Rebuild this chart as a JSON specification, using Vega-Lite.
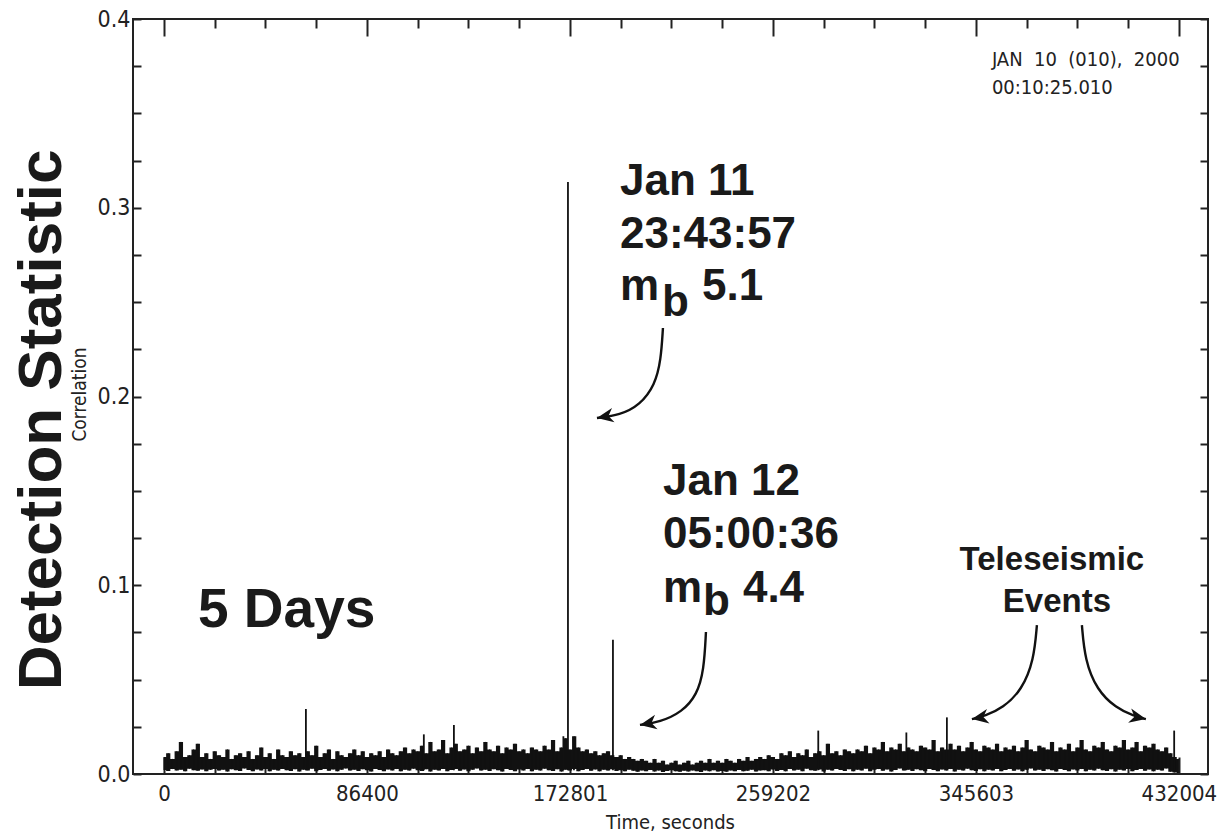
{
 "$schema": "https://vega.github.io/schema/vega-lite/v6.json",
 "width": 1075,
 "height": 755,
 "autosize": {"type": "none"},
 "padding": {"left": 133, "top": 19, "right": 15, "bottom": 62},
 "background": "white",
 "config": {
  "view": {"stroke": "#222", "strokeWidth": 2},
  "axis": {"grid": false, "domain": false, "tickColor": "#222", "tickWidth": 2, "labelColor": "#222", "labelFont": "Liberation Sans Narrow, DejaVu Sans Condensed, sans-serif", "labelFontSize": 22, "titleColor": "#222", "titleFont": "Liberation Sans Narrow, DejaVu Sans Condensed, sans-serif", "titleFontWeight": "normal", "labelOverlap": false, "labelFlush": false}
 },
 "resolve": {"axis": {"x": "independent", "y": "independent"}},
 "datasets": {
  "band": [
   {"t":0,"lo":0.0021,"hi":0.009},{"t":1800,"lo":0.0016,"hi":0.011},{"t":3600,"lo":0.0026,"hi":0.008},{"t":5400,"lo":0.0019,"hi":0.012},{"t":7200,"lo":0.0023,"hi":0.017},
   {"t":9000,"lo":0.0014,"hi":0.009},{"t":10800,"lo":0.0028,"hi":0.010},{"t":12600,"lo":0.0020,"hi":0.013},{"t":14400,"lo":0.0017,"hi":0.016},{"t":16200,"lo":0.0024,"hi":0.009},
   {"t":18000,"lo":0.0015,"hi":0.011},{"t":19800,"lo":0.0022,"hi":0.008},{"t":21600,"lo":0.0027,"hi":0.012},{"t":23400,"lo":0.0018,"hi":0.010},{"t":25200,"lo":0.0023,"hi":0.009},
   {"t":27000,"lo":0.0013,"hi":0.013},{"t":28800,"lo":0.0025,"hi":0.008},{"t":30600,"lo":0.0020,"hi":0.010},{"t":32400,"lo":0.0016,"hi":0.011},{"t":34200,"lo":0.0029,"hi":0.009},
   {"t":36000,"lo":0.0021,"hi":0.012},{"t":37800,"lo":0.0015,"hi":0.008},{"t":39600,"lo":0.0024,"hi":0.010},{"t":41400,"lo":0.0019,"hi":0.014},{"t":43200,"lo":0.0026,"hi":0.009},
   {"t":45000,"lo":0.0014,"hi":0.011},{"t":46800,"lo":0.0022,"hi":0.008},{"t":48600,"lo":0.0018,"hi":0.013},{"t":50400,"lo":0.0027,"hi":0.010},{"t":52200,"lo":0.0020,"hi":0.009},
   {"t":54000,"lo":0.0016,"hi":0.012},{"t":55800,"lo":0.0025,"hi":0.010},{"t":57600,"lo":0.0013,"hi":0.011},{"t":59400,"lo":0.0023,"hi":0.009},{"t":61200,"lo":0.0019,"hi":0.012},
   {"t":63000,"lo":0.0028,"hi":0.010},{"t":64800,"lo":0.0015,"hi":0.015},{"t":66600,"lo":0.0021,"hi":0.009},{"t":68400,"lo":0.0026,"hi":0.011},{"t":70200,"lo":0.0017,"hi":0.013},
   {"t":72000,"lo":0.0024,"hi":0.008},{"t":73800,"lo":0.0014,"hi":0.012},{"t":75600,"lo":0.0022,"hi":0.010},{"t":77400,"lo":0.0029,"hi":0.009},{"t":79200,"lo":0.0018,"hi":0.011},
   {"t":81000,"lo":0.0023,"hi":0.013},{"t":82800,"lo":0.0016,"hi":0.010},{"t":84600,"lo":0.0025,"hi":0.012},{"t":86400,"lo":0.0020,"hi":0.009},{"t":88200,"lo":0.0013,"hi":0.011},
   {"t":90000,"lo":0.0027,"hi":0.010},{"t":91800,"lo":0.0021,"hi":0.012},{"t":93600,"lo":0.0015,"hi":0.009},{"t":95400,"lo":0.0024,"hi":0.013},{"t":97200,"lo":0.0019,"hi":0.011},
   {"t":99000,"lo":0.0026,"hi":0.010},{"t":100800,"lo":0.0014,"hi":0.012},{"t":102600,"lo":0.0022,"hi":0.014},{"t":104400,"lo":0.0018,"hi":0.011},{"t":106200,"lo":0.0028,"hi":0.013},
   {"t":108000,"lo":0.0020,"hi":0.012},{"t":109800,"lo":0.0016,"hi":0.015},{"t":111600,"lo":0.0025,"hi":0.011},{"t":113400,"lo":0.0013,"hi":0.017},{"t":115200,"lo":0.0023,"hi":0.012},
   {"t":117000,"lo":0.0019,"hi":0.013},{"t":118800,"lo":0.0027,"hi":0.018},{"t":120600,"lo":0.0015,"hi":0.011},{"t":122400,"lo":0.0021,"hi":0.014},{"t":124200,"lo":0.0026,"hi":0.016},
   {"t":126000,"lo":0.0017,"hi":0.012},{"t":127800,"lo":0.0024,"hi":0.013},{"t":129600,"lo":0.0014,"hi":0.015},{"t":131400,"lo":0.0022,"hi":0.011},{"t":133200,"lo":0.0029,"hi":0.014},
   {"t":135000,"lo":0.0018,"hi":0.012},{"t":136800,"lo":0.0023,"hi":0.017},{"t":138600,"lo":0.0016,"hi":0.013},{"t":140400,"lo":0.0025,"hi":0.012},{"t":142200,"lo":0.0020,"hi":0.015},
   {"t":144000,"lo":0.0013,"hi":0.011},{"t":145800,"lo":0.0027,"hi":0.014},{"t":147600,"lo":0.0021,"hi":0.013},{"t":149400,"lo":0.0015,"hi":0.016},{"t":151200,"lo":0.0024,"hi":0.012},
   {"t":153000,"lo":0.0019,"hi":0.013},{"t":154800,"lo":0.0026,"hi":0.011},{"t":156600,"lo":0.0014,"hi":0.014},{"t":158400,"lo":0.0022,"hi":0.013},{"t":160200,"lo":0.0018,"hi":0.012},
   {"t":162000,"lo":0.0028,"hi":0.015},{"t":163800,"lo":0.0020,"hi":0.013},{"t":165600,"lo":0.0016,"hi":0.018},{"t":167400,"lo":0.0025,"hi":0.012},{"t":169200,"lo":0.0013,"hi":0.014},
   {"t":171000,"lo":0.0023,"hi":0.019},{"t":172800,"lo":0.0019,"hi":0.013},{"t":174600,"lo":0.0027,"hi":0.020},{"t":176400,"lo":0.0015,"hi":0.014},{"t":178200,"lo":0.0021,"hi":0.012},
   {"t":180000,"lo":0.0026,"hi":0.013},{"t":181800,"lo":0.0017,"hi":0.011},{"t":183600,"lo":0.0024,"hi":0.012},{"t":185400,"lo":0.0014,"hi":0.010},{"t":187200,"lo":0.0022,"hi":0.011},
   {"t":189000,"lo":0.0018,"hi":0.012},{"t":190800,"lo":0.0025,"hi":0.010},{"t":192600,"lo":0.0016,"hi":0.009},{"t":194400,"lo":0.0020,"hi":0.010},{"t":196200,"lo":0.0014,"hi":0.008},
   {"t":198000,"lo":0.0023,"hi":0.009},{"t":199800,"lo":0.0017,"hi":0.008},{"t":201600,"lo":0.0012,"hi":0.007},{"t":203400,"lo":0.0019,"hi":0.008},{"t":205200,"lo":0.0015,"hi":0.007},
   {"t":207000,"lo":0.0021,"hi":0.006},{"t":208800,"lo":0.0013,"hi":0.008},{"t":210600,"lo":0.0018,"hi":0.006},{"t":212400,"lo":0.0011,"hi":0.007},{"t":214200,"lo":0.0016,"hi":0.005},
   {"t":216000,"lo":0.0020,"hi":0.006},{"t":217800,"lo":0.0014,"hi":0.007},{"t":219600,"lo":0.0012,"hi":0.005},{"t":221400,"lo":0.0017,"hi":0.006},{"t":223200,"lo":0.0013,"hi":0.007},
   {"t":225000,"lo":0.0019,"hi":0.005},{"t":226800,"lo":0.0015,"hi":0.006},{"t":228600,"lo":0.0011,"hi":0.007},{"t":230400,"lo":0.0018,"hi":0.006},{"t":232200,"lo":0.0014,"hi":0.008},
   {"t":234000,"lo":0.0020,"hi":0.006},{"t":235800,"lo":0.0013,"hi":0.007},{"t":237600,"lo":0.0016,"hi":0.006},{"t":239400,"lo":0.0012,"hi":0.008},{"t":241200,"lo":0.0019,"hi":0.007},
   {"t":243000,"lo":0.0015,"hi":0.006},{"t":244800,"lo":0.0021,"hi":0.008},{"t":246600,"lo":0.0014,"hi":0.007},{"t":248400,"lo":0.0017,"hi":0.009},{"t":250200,"lo":0.0022,"hi":0.007},
   {"t":252000,"lo":0.0013,"hi":0.008},{"t":253800,"lo":0.0018,"hi":0.009},{"t":255600,"lo":0.0020,"hi":0.008},{"t":257400,"lo":0.0015,"hi":0.010},{"t":259200,"lo":0.0024,"hi":0.009},
   {"t":261000,"lo":0.0016,"hi":0.008},{"t":262800,"lo":0.0021,"hi":0.011},{"t":264600,"lo":0.0014,"hi":0.010},{"t":266400,"lo":0.0026,"hi":0.012},{"t":268200,"lo":0.0019,"hi":0.009},
   {"t":270000,"lo":0.0023,"hi":0.011},{"t":271800,"lo":0.0015,"hi":0.010},{"t":273600,"lo":0.0028,"hi":0.013},{"t":275400,"lo":0.0020,"hi":0.009},{"t":277200,"lo":0.0017,"hi":0.011},
   {"t":279000,"lo":0.0024,"hi":0.012},{"t":280800,"lo":0.0013,"hi":0.010},{"t":282600,"lo":0.0022,"hi":0.016},{"t":284400,"lo":0.0018,"hi":0.011},{"t":286200,"lo":0.0027,"hi":0.012},
   {"t":288000,"lo":0.0021,"hi":0.010},{"t":289800,"lo":0.0016,"hi":0.013},{"t":291600,"lo":0.0025,"hi":0.012},{"t":293400,"lo":0.0014,"hi":0.011},{"t":295200,"lo":0.0023,"hi":0.013},
   {"t":297000,"lo":0.0019,"hi":0.012},{"t":298800,"lo":0.0028,"hi":0.015},{"t":300600,"lo":0.0015,"hi":0.011},{"t":302400,"lo":0.0022,"hi":0.014},{"t":304200,"lo":0.0026,"hi":0.013},
   {"t":306000,"lo":0.0017,"hi":0.017},{"t":307800,"lo":0.0024,"hi":0.012},{"t":309600,"lo":0.0013,"hi":0.014},{"t":311400,"lo":0.0021,"hi":0.013},{"t":313200,"lo":0.0029,"hi":0.016},
   {"t":315000,"lo":0.0018,"hi":0.012},{"t":316800,"lo":0.0023,"hi":0.014},{"t":318600,"lo":0.0016,"hi":0.013},{"t":320400,"lo":0.0025,"hi":0.012},{"t":322200,"lo":0.0020,"hi":0.015},
   {"t":324000,"lo":0.0014,"hi":0.014},{"t":325800,"lo":0.0027,"hi":0.013},{"t":327600,"lo":0.0021,"hi":0.018},{"t":329400,"lo":0.0015,"hi":0.012},{"t":331200,"lo":0.0024,"hi":0.014},
   {"t":333000,"lo":0.0019,"hi":0.013},{"t":334800,"lo":0.0026,"hi":0.016},{"t":336600,"lo":0.0013,"hi":0.013},{"t":338400,"lo":0.0022,"hi":0.015},{"t":340200,"lo":0.0018,"hi":0.012},
   {"t":342000,"lo":0.0028,"hi":0.014},{"t":343800,"lo":0.0020,"hi":0.017},{"t":345600,"lo":0.0016,"hi":0.013},{"t":347400,"lo":0.0025,"hi":0.012},{"t":349200,"lo":0.0014,"hi":0.015},
   {"t":351000,"lo":0.0023,"hi":0.014},{"t":352800,"lo":0.0019,"hi":0.013},{"t":354600,"lo":0.0027,"hi":0.016},{"t":356400,"lo":0.0015,"hi":0.012},{"t":358200,"lo":0.0021,"hi":0.014},
   {"t":360000,"lo":0.0026,"hi":0.013},{"t":361800,"lo":0.0017,"hi":0.015},{"t":363600,"lo":0.0024,"hi":0.012},{"t":365400,"lo":0.0014,"hi":0.014},{"t":367200,"lo":0.0022,"hi":0.018},
   {"t":369000,"lo":0.0029,"hi":0.013},{"t":370800,"lo":0.0018,"hi":0.012},{"t":372600,"lo":0.0023,"hi":0.015},{"t":374400,"lo":0.0016,"hi":0.014},{"t":376200,"lo":0.0025,"hi":0.013},
   {"t":378000,"lo":0.0020,"hi":0.017},{"t":379800,"lo":0.0013,"hi":0.012},{"t":381600,"lo":0.0027,"hi":0.014},{"t":383400,"lo":0.0021,"hi":0.013},{"t":385200,"lo":0.0015,"hi":0.016},
   {"t":387000,"lo":0.0024,"hi":0.012},{"t":388800,"lo":0.0019,"hi":0.014},{"t":390600,"lo":0.0026,"hi":0.018},{"t":392400,"lo":0.0014,"hi":0.013},{"t":394200,"lo":0.0022,"hi":0.012},
   {"t":396000,"lo":0.0018,"hi":0.015},{"t":397800,"lo":0.0028,"hi":0.014},{"t":399600,"lo":0.0020,"hi":0.017},{"t":401400,"lo":0.0016,"hi":0.013},{"t":403200,"lo":0.0025,"hi":0.012},
   {"t":405000,"lo":0.0013,"hi":0.015},{"t":406800,"lo":0.0023,"hi":0.014},{"t":408600,"lo":0.0019,"hi":0.018},{"t":410400,"lo":0.0027,"hi":0.013},{"t":412200,"lo":0.0015,"hi":0.014},
   {"t":414000,"lo":0.0021,"hi":0.017},{"t":415800,"lo":0.0026,"hi":0.012},{"t":417600,"lo":0.0017,"hi":0.015},{"t":419400,"lo":0.0024,"hi":0.014},{"t":421200,"lo":0.0014,"hi":0.016},
   {"t":423000,"lo":0.0022,"hi":0.013},{"t":424800,"lo":0.0018,"hi":0.012},{"t":426600,"lo":0.0029,"hi":0.014},{"t":428400,"lo":0.0012,"hi":0.011},{"t":430200,"lo":0.0008,"hi":0.009},
   {"t":432000,"lo":0.0005,"hi":0.008}
  ],
  "spikes": [
   {"t":60400,"v":0.0345},{"t":110600,"v":0.021},{"t":123400,"v":0.026},{"t":170000,"v":0.020},{"t":171950,"v":0.3136},
   {"t":174500,"v":0.019},{"t":191100,"v":0.0711},{"t":278500,"v":0.023},{"t":316000,"v":0.022},{"t":333250,"v":0.030},{"t":430000,"v":0.023}
  ],
  "arrows": [
   {"a":1,"k":0,"t":212380,"v":0.2363},{"a":1,"k":1,"t":211530,"v":0.2193},{"a":1,"k":2,"t":208980,"v":0.2061},{"a":1,"k":3,"t":202600,"v":0.1955},{"a":1,"k":4,"t":194080,"v":0.1902},{"a":1,"k":5,"t":184290,"v":0.1886},
   {"a":2,"k":0,"t":230690,"v":0.0752},{"a":2,"k":1,"t":229840,"v":0.0551},{"a":2,"k":2,"t":226860,"v":0.0419},{"a":2,"k":3,"t":220470,"v":0.0328},{"a":2,"k":4,"t":211110,"v":0.0275},{"a":2,"k":5,"t":202600,"v":0.0260},
   {"a":3,"k":0,"t":371570,"v":0.0789},{"a":3,"k":1,"t":370290,"v":0.0604},{"a":3,"k":2,"t":365180,"v":0.0445},{"a":3,"k":3,"t":357100,"v":0.0350},{"a":3,"k":4,"t":349430,"v":0.0307},{"a":3,"k":5,"t":343900,"v":0.0291},
   {"a":4,"k":0,"t":390720,"v":0.0789},{"a":4,"k":1,"t":392000,"v":0.0604},{"a":4,"k":2,"t":397100,"v":0.0445},{"a":4,"k":3,"t":405190,"v":0.0350},{"a":4,"k":4,"t":412850,"v":0.0307},{"a":4,"k":5,"t":417960,"v":0.0291}
  ],
  "headsL": [{"t":184290,"v":0.1886},{"t":202600,"v":0.0260},{"t":343900,"v":0.0291}],
  "headsR": [{"t":417960,"v":0.0291}],
  "big": [
   {"t":194080,"v":0.3068,"s":"Jan 11"},{"t":194080,"v":0.2787,"s":"23:43:57"},{"t":194080,"v":0.2511,"s":"m"},{"t":211960,"v":0.2426,"s":"b"},{"t":228980,"v":0.2511,"s":"5.1"},
   {"t":212380,"v":0.1478,"s":"Jan 12"},{"t":212380,"v":0.1197,"s":"05:00:36"},{"t":212380,"v":0.0911,"s":"m"},{"t":229410,"v":0.0842,"s":"b"},{"t":246430,"v":0.0911,"s":"4.4"}
  ],
  "days": [{"t":14470,"v":0.0779,"s":"5 Days"}],
  "tele": [{"t":377950,"v":0.1081,"s":"Teleseismic"},{"t":380080,"v":0.0858,"s":"Events"}],
  "stamp": [{"t":352410,"v":0.3751,"s":"JAN\u00a0\u00a010\u00a0\u00a0(010),\u00a0\u00a02000"},{"t":352410,"v":0.3603,"s":"00:10:25.010"}],
  "ytitle": [{"t":-51900,"v":0.1876,"s":"Detection Statistic"}]
 },
 "layer": [
  {
   "data": {"name": "band"},
   "mark": {"type": "area", "color": "#111", "interpolate": "step"},
   "encoding": {
    "x": {"field": "t", "type": "quantitative", "scale": {"domain": [-13200, 444400], "nice": false, "zero": false},
     "axis": {"orient": "bottom", "values": [0,21600,43200,64800,86400,108000,129600,151200,172801,194401,216001,237601,259202,280802,302402,324002,345603,367203,388803,410403,432004],
      "format": "d",
      "labelExpr": "indexof([0,86400,172801,259202,345603,432004], datum.value) >= 0 ? datum.label : ''",
      "tickSize": {"condition": {"test": "indexof([0,86400,172801,259202,345603,432004], datum.value) >= 0", "value": -17}, "value": -9},
      "labelPadding": 26,
      "title": "Time, seconds", "titleFontSize": 20, "titleX": 537, "titleY": 48, "titleBaseline": "middle", "titleAlign": "center"}},
    "y": {"field": "hi", "type": "quantitative", "scale": {"domain": [0, 0.4], "nice": false, "zero": false},
     "axis": {"orient": "left", "values": [0,0.025,0.05,0.075,0.1,0.125,0.15,0.175,0.2,0.225,0.25,0.275,0.3,0.325,0.35,0.375,0.4],
      "format": ".1f",
      "labelExpr": "indexof([0,0.1,0.2,0.3,0.4], datum.value) >= 0 ? datum.label : ''",
      "tickSize": -8, "labelPadding": 11, "labelFontSize": 23,
      "title": "Correlation", "titleFontSize": 19, "titleX": -54, "titleY": 375, "titleAngle": 270, "titleBaseline": "middle", "titleAlign": "center"}},
    "y2": {"field": "lo"}
   }
  },
  {
   "data": {"name": "band"},
   "mark": {"type": "rule", "color": "#111", "strokeWidth": 1},
   "encoding": {
    "x": {"field": "t", "type": "quantitative", "scale": {"domain": [-13200, 444400], "nice": false, "zero": false},
     "axis": {"orient": "top", "values": [0,21600,43200,64800,86400,108000,129600,151200,172801,194401,216001,237601,259202,280802,302402,324002,345603,367203,388803,410403,432004],
      "labels": false, "title": null,
      "tickSize": {"condition": {"test": "indexof([0,86400,172801,259202,345603,432004], datum.value) >= 0", "value": -17}, "value": -9}}},
    "y": {"field": "hi", "type": "quantitative", "scale": {"domain": [0, 0.4], "nice": false, "zero": false},
     "axis": {"orient": "right", "values": [0,0.025,0.05,0.075,0.1,0.125,0.15,0.175,0.2,0.225,0.25,0.275,0.3,0.325,0.35,0.375,0.4],
      "labels": false, "title": null, "tickSize": -8}},
    "y2": {"field": "lo"}
   }
  },
  {
   "data": {"name": "spikes"},
   "mark": {"type": "rule", "color": "#111", "strokeWidth": 1.8},
   "encoding": {
    "x": {"field": "t", "type": "quantitative", "scale": {"domain": [-13200, 444400], "nice": false, "zero": false}, "axis": null},
    "y": {"field": "v", "type": "quantitative", "scale": {"domain": [0, 0.4], "nice": false, "zero": false}, "axis": null},
    "y2": {"datum": 0.002}
   }
  },
  {
   "data": {"name": "arrows"},
   "mark": {"type": "line", "color": "#111", "strokeWidth": 2.4, "interpolate": "basis"},
   "encoding": {
    "x": {"field": "t", "type": "quantitative", "scale": {"domain": [-13200, 444400], "nice": false, "zero": false}, "axis": null},
    "y": {"field": "v", "type": "quantitative", "scale": {"domain": [0, 0.4], "nice": false, "zero": false}, "axis": null},
    "detail": {"field": "a", "type": "nominal"},
    "order": {"field": "k", "type": "quantitative"}
   }
  },
  {
   "data": {"name": "headsL"},
   "mark": {"type": "point", "shape": "M0,0L1.7,-0.75L1.2,0L1.7,0.75Z", "size": 380, "filled": true, "color": "#111", "opacity": 1, "angle": -10},
   "encoding": {
    "x": {"field": "t", "type": "quantitative", "scale": {"domain": [-13200, 444400], "nice": false, "zero": false}, "axis": null},
    "y": {"field": "v", "type": "quantitative", "scale": {"domain": [0, 0.4], "nice": false, "zero": false}, "axis": null}
   }
  },
  {
   "data": {"name": "headsR"},
   "mark": {"type": "point", "shape": "M0,0L1.7,-0.75L1.2,0L1.7,0.75Z", "size": 380, "filled": true, "color": "#111", "opacity": 1, "angle": 192},
   "encoding": {
    "x": {"field": "t", "type": "quantitative", "scale": {"domain": [-13200, 444400], "nice": false, "zero": false}, "axis": null},
    "y": {"field": "v", "type": "quantitative", "scale": {"domain": [0, 0.4], "nice": false, "zero": false}, "axis": null}
   }
  },
  {
   "data": {"name": "big"},
   "mark": {"type": "text", "font": "Liberation Sans", "fontWeight": "bold", "fontSize": 44, "align": "left", "baseline": "alphabetic", "color": "#1a1a1a"},
   "encoding": {
    "x": {"field": "t", "type": "quantitative", "scale": {"domain": [-13200, 444400], "nice": false, "zero": false}, "axis": null},
    "y": {"field": "v", "type": "quantitative", "scale": {"domain": [0, 0.4], "nice": false, "zero": false}, "axis": null},
    "text": {"field": "s"}
   }
  },
  {
   "data": {"name": "days"},
   "mark": {"type": "text", "font": "Liberation Sans", "fontWeight": "bold", "fontSize": 55, "align": "left", "baseline": "alphabetic", "color": "#1a1a1a"},
   "encoding": {
    "x": {"field": "t", "type": "quantitative", "scale": {"domain": [-13200, 444400], "nice": false, "zero": false}, "axis": null},
    "y": {"field": "v", "type": "quantitative", "scale": {"domain": [0, 0.4], "nice": false, "zero": false}, "axis": null},
    "text": {"field": "s"}
   }
  },
  {
   "data": {"name": "tele"},
   "mark": {"type": "text", "font": "Liberation Sans", "fontWeight": "bold", "fontSize": 33, "align": "center", "baseline": "alphabetic", "color": "#1a1a1a"},
   "encoding": {
    "x": {"field": "t", "type": "quantitative", "scale": {"domain": [-13200, 444400], "nice": false, "zero": false}, "axis": null},
    "y": {"field": "v", "type": "quantitative", "scale": {"domain": [0, 0.4], "nice": false, "zero": false}, "axis": null},
    "text": {"field": "s"}
   }
  },
  {
   "data": {"name": "stamp"},
   "mark": {"type": "text", "font": "Liberation Sans Narrow, DejaVu Sans Condensed, sans-serif", "fontSize": 20, "align": "left", "baseline": "alphabetic", "color": "#222"},
   "encoding": {
    "x": {"field": "t", "type": "quantitative", "scale": {"domain": [-13200, 444400], "nice": false, "zero": false}, "axis": null},
    "y": {"field": "v", "type": "quantitative", "scale": {"domain": [0, 0.4], "nice": false, "zero": false}, "axis": null},
    "text": {"field": "s"}
   }
  },
  {
   "data": {"name": "ytitle"},
   "mark": {"type": "text", "font": "Liberation Sans", "fontWeight": "bold", "fontSize": 62, "align": "center", "baseline": "middle", "angle": 270, "color": "#1a1a1a"},
   "encoding": {
    "x": {"field": "t", "type": "quantitative", "scale": {"domain": [-13200, 444400], "nice": false, "zero": false}, "axis": null},
    "y": {"field": "v", "type": "quantitative", "scale": {"domain": [0, 0.4], "nice": false, "zero": false}, "axis": null},
    "text": {"field": "s"}
   }
  }
 ]
}
